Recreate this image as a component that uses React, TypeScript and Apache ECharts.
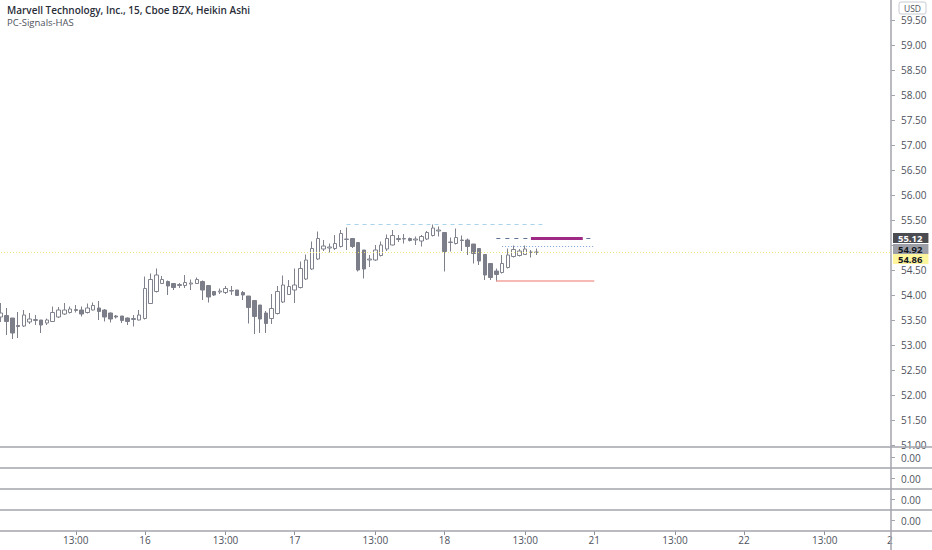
import React, { useEffect, useRef } from 'react';
import * as echarts from 'echarts';

// ---- categories (15-minute bars, regular session) ----
const DAYS = ['15', '16', '17', '18', '21', '22'];
const TIMES = [
  '09:30', '09:45', '10:00', '10:15', '10:30', '10:45', '11:00', '11:15', '11:30', '11:45',
  '12:00', '12:15', '12:30', '12:45', '13:00', '13:15', '13:30', '13:45', '14:00', '14:15',
  '14:30', '14:45', '15:00', '15:15', '15:30', '15:45',
];
const FIRST_SLOT = 1; // chart starts at 15th 09:45

// ---- Heikin Ashi candles ----
const opens = [
  53.56, 53.59, 53.54, 53.39, 53.38, 53.46, 53.49, 53.50, 53.44, 53.47,
  53.56, 53.62, 53.65, 53.69, 53.70, 53.65, 53.70, 53.74, 53.70, 53.64,
  53.58, 53.58, 53.54, 53.51, 53.50, 53.53, 53.83, 54.07, 54.23, 54.27,
  54.23, 54.19, 54.19, 54.22, 54.23, 54.27, 54.19, 54.07, 54.06, 54.05,
  54.08, 54.10, 54.05, 53.98, 53.89, 53.80, 53.64, 53.53, 53.63, 53.86,
  54.01, 54.10, 54.15, 54.32, 54.52, 54.72, 54.92, 54.94, 54.93, 54.97,
  55.11, 55.13, 55.05, 54.90, 54.70, 54.70, 54.79, 54.92, 55.00, 55.11,
  55.12, 55.13, 55.10, 55.08, 55.12, 55.19, 55.28, 55.25, 55.05, 55.03,
  55.10, 55.10, 55.02, 54.93, 54.81, 54.63, 54.48, 54.45, 54.55, 54.77,
  54.79, 54.81, 54.86, 54.85,
];
const closes = [
  53.64, 53.47, 53.24, 53.37, 53.60, 53.52, 53.51, 53.40, 53.50, 53.65,
  53.70, 53.70, 53.72, 53.71, 53.62, 53.74, 53.79, 53.67, 53.56, 53.52,
  53.56, 53.49, 53.47, 53.53, 53.60, 54.13, 54.31, 54.40, 54.31, 54.18,
  54.15, 54.21, 54.25, 54.24, 54.31, 54.10, 53.96, 54.00, 54.08, 54.13,
  54.09, 53.99, 54.00, 53.75, 53.57, 53.52, 53.43, 53.73, 54.07, 54.20,
  54.17, 54.20, 54.53, 54.70, 54.93, 55.13, 54.98, 54.96, 55.03, 55.23,
  55.12, 54.97, 54.50, 54.52, 54.72, 54.90, 55.00, 55.13, 55.19, 55.13,
  55.13, 55.09, 55.12, 55.17, 55.25, 55.34, 55.30, 54.87, 55.06, 55.15,
  55.09, 54.97, 54.83, 54.68, 54.40, 54.35, 54.41, 54.63, 54.80, 54.91,
  54.88, 54.92, 54.85, 54.86,
];
const lows = [
  53.46, 53.20, 53.12, 53.14, 53.36, 53.42, 53.40, 53.24, 53.40, 53.46,
  53.54, 53.60, 53.63, 53.65, 53.57, 53.63, 53.69, 53.50, 53.47, 53.45,
  53.53, 53.44, 53.40, 53.37, 53.49, 53.51, 53.82, 54.05, 54.22, 54.00,
  54.10, 54.14, 54.14, 54.10, 54.22, 53.90, 53.85, 53.98, 54.02, 54.02,
  54.00, 53.98, 53.90, 53.43, 53.22, 53.24, 53.24, 53.42, 53.61, 53.84,
  54.00, 53.84, 54.13, 54.30, 54.50, 54.70, 54.88, 54.85, 54.90, 54.95,
  54.90, 54.94, 54.47, 54.33, 54.56, 54.68, 54.77, 54.88, 54.99, 55.06,
  55.03, 55.07, 55.00, 54.97, 55.10, 55.17, 55.17, 54.47, 54.87, 55.01,
  54.88, 54.80, 54.63, 54.60, 54.30, 54.30, 54.27, 54.43, 54.53, 54.75,
  54.77, 54.80, 54.75, 54.80,
];
const highs = [
  53.84, 53.74, 53.54, 53.66, 53.70, 53.64, 53.60, 53.50, 53.53, 53.77,
  53.76, 53.84, 53.77, 53.80, 53.77, 53.83, 53.85, 53.88, 53.72, 53.65,
  53.60, 53.58, 53.55, 53.60, 53.70, 54.37, 54.43, 54.53, 54.38, 54.29,
  54.24, 54.24, 54.40, 54.31, 54.35, 54.29, 54.19, 54.07, 54.13, 54.18,
  54.18, 54.10, 54.08, 53.98, 53.90, 53.80, 53.68, 54.02, 54.18, 54.39,
  54.30, 54.53, 54.67, 54.81, 55.07, 55.27, 55.10, 55.03, 55.20, 55.30,
  55.35, 55.13, 55.05, 54.90, 54.80, 55.00, 55.07, 55.21, 55.30, 55.20,
  55.22, 55.15, 55.17, 55.20, 55.28, 55.41, 55.37, 55.25, 55.15, 55.33,
  55.19, 55.13, 55.02, 54.93, 54.81, 54.63, 54.53, 54.80, 54.93, 54.99,
  54.92, 54.99, 54.90, 54.93,
];

// ---- indicator levels: [value, fromBar, toBar] ----
const resistanceLevel = [55.42, 60, 94];
const upperLevel = [55.14, 86, 103];
const signalLevel = [55.14, 92, 101];
const middleLevel = [54.98, 87, 103];
const supportLevel = [54.29, 86, 103];
const lastPrice = 54.86;
const priceTags = [55.12, 54.92];

const PRICE_MIN = 51;
const PRICE_MAX = 59.9;
const PRICE_STEP = 0.5;

const FONT = '"Open Sans", "DejaVu Sans", sans-serif';
const AXIS_GRAY = '#a3a5ad';
const LABEL_COLOR = '#4e525c';
const CANDLE_GRAY = '#7c7f89';

export default function App() {
  const ref = useRef<HTMLDivElement>(null);

  useEffect(() => {
    if (!ref.current) return;
    const chart = echarts.init(ref.current, undefined, { renderer: 'svg' });

    const categories: string[] = [];
    DAYS.forEach((d, di) => {
      TIMES.forEach((t, ti) => {
        if (di === 0 && ti < FIRST_SLOT) return;
        categories.push(`${d} ${t}`);
      });
    });

    const candles = opens.map((o, i) => [o, closes[i], lows[i], highs[i]]);

    const isLabelSlot = (_i: number, v: string) => v.endsWith('09:30') || v.endsWith('13:00');

    // price-scale labels hidden behind the price tags
    const tagValues = [...priceTags, lastPrice];
    const hiddenByTag = (v: number) => tagValues.some((t) => Math.abs(t - v) < 0.15);

    const gridBase = { left: -2, right: 41, outerBoundsMode: 'none', containLabel: false };
    const grids = [
      { ...gridBase, top: 0, height: 445 },
      { ...gridBase, top: 447, height: 21 },
      { ...gridBase, top: 468, height: 21 },
      { ...gridBase, top: 489, height: 21 },
      { ...gridBase, top: 510, height: 21 },
    ];

    const xAxes = grids.map((_, gi) => ({
      type: 'category',
      gridIndex: gi,
      position: 'bottom',
      data: categories,
      boundaryGap: true,
      axisLine: { show: false, onZero: false },
      splitLine: { show: false },
      axisTick: gi === 4
        ? { show: true, interval: isLabelSlot, alignWithLabel: true, length: 4, lineStyle: { color: '#8f929b', width: 1 } }
        : { show: false },
      axisLabel: gi === 4
        ? {
            show: true,
            interval: isLabelSlot,
            formatter: (v: string) => (v.endsWith('09:30') ? v.split(' ')[0] : '13:00'),
            fontSize: 10,
            color: LABEL_COLOR,
            margin: 4,
          }
        : { show: false },
    }));

    const yAxes: any[] = [
      {
        type: 'value',
        gridIndex: 0,
        position: 'right',
        min: PRICE_MIN,
        max: PRICE_MAX,
        interval: PRICE_STEP,
        axisLine: { show: false },
        axisTick: { show: true, length: 4, lineStyle: { color: AXIS_GRAY } },
        splitLine: { show: false },
        axisLabel: {
          formatter: (v: number) => (hiddenByTag(v) ? '' : v.toFixed(2)),
          fontSize: 10,
          color: LABEL_COLOR,
          margin: 10,
          showMaxLabel: false,
        },
      },
    ];
    for (let k = 1; k <= 4; k++) {
      yAxes.push({
        type: 'value',
        gridIndex: k,
        position: 'right',
        min: -1,
        max: 1,
        interval: 1,
        axisLine: { show: false },
        axisTick: { show: true, length: 4, lineStyle: { color: AXIS_GRAY } },
        splitLine: { show: false },
        axisLabel: {
          formatter: (v: number) => (v === 0 ? '0.00' : ''),
          fontSize: 10,
          color: LABEL_COLOR,
          margin: 10,
          showMinLabel: false,
          showMaxLabel: false,
        },
      });
    }

    const seg = (lvl: number[], lineStyle: any) => [
      { coord: [lvl[1], lvl[0]], lineStyle },
      { coord: [lvl[2], lvl[0]] },
    ];
    const tagLabel = (bg: string, fg: string, offsetY = 0) => ({
      show: true,
      position: 'end',
      distance: 2,
      formatter: (p: any) => Number(p.value).toFixed(2),
      backgroundColor: bg,
      color: fg,
      fontSize: 9.5,
      fontWeight: 'bold',
      padding: [0, 6, 0, 5],
      lineHeight: 10,
      offset: [0, offsetY],
    });
    const invisible = { color: 'rgba(255,255,255,0)', width: 0 };

    const option: any = {
      animation: false,
      backgroundColor: '#ffffff',
      textStyle: { fontFamily: FONT },
      grid: grids,
      xAxis: xAxes,
      yAxis: yAxes,
      series: [
        {
          type: 'candlestick',
          xAxisIndex: 0,
          yAxisIndex: 0,
          data: candles,
          barWidth: 4,
          itemStyle: {
            color: '#ffffff',
            color0: CANDLE_GRAY,
            borderColor: '#80838d',
            borderColor0: CANDLE_GRAY,
            borderWidth: 1,
          },
          markLine: {
            silent: true,
            symbol: ['none', 'none'],
            label: { show: false },
            emphasis: { disabled: true },
            data: [
              seg(resistanceLevel, { color: '#a9d3ec', type: [4, 4], width: 1 }),
              seg(upperLevel, { color: '#5d7290', type: [4, 5], width: 1 }),
              seg(signalLevel, { color: '#9e2a85', type: 'solid', width: 3 }),
              seg(middleLevel, { color: '#7aa3d8', type: [1, 2], width: 1 }),
              seg(supportLevel, { color: '#f3a29b', type: 'solid', width: 1.5 }),
              {
                yAxis: lastPrice,
                lineStyle: { color: '#f1e27a', type: [1, 2], width: 1 },
                label: tagLabel('#fff59d', '#131722', 7),
              },
              {
                yAxis: priceTags[0],
                lineStyle: invisible,
                label: tagLabel('#4b4c52', '#ffffff', -1),
              },
              {
                yAxis: priceTags[1],
                lineStyle: invisible,
                label: tagLabel('#9c9fa7', '#131722', 0),
              },
            ],
          },
        },
      ],
      graphic: [
        ...[447, 468, 489, 510, 531].map((y) => ({
          type: 'line',
          z: 4,
          silent: true,
          shape: { x1: 0, y1: y, x2: 932, y2: y },
          style: { stroke: AXIS_GRAY, lineWidth: 1.5 },
        })),
        {
          type: 'line',
          z: 4,
          silent: true,
          shape: { x1: 891, y1: 0, x2: 891, y2: 550 },
          style: { stroke: AXIS_GRAY, lineWidth: 1.5 },
        },
        {
          type: 'text',
          z: 5,
          left: 7,
          top: 5,
          style: {
            text: 'Marvell Technology, Inc., 15, Cboe BZX, Heikin Ashi',
            fill: '#2a2e39',
            font: `600 10px ${FONT}`,
          },
        },
        {
          type: 'text',
          z: 5,
          left: 7,
          top: 17,
          style: { text: 'PC-Signals-HAS', fill: '#4e525c', font: `9.5px ${FONT}` },
        },
        {
          type: 'rect',
          z: 5,
          shape: { x: 899, y: 2, width: 27, height: 12, r: 2 },
          style: { fill: '#ffffff', stroke: '#c9cbd1', lineWidth: 1 },
        },
        {
          type: 'text',
          z: 6,
          x: 912.5,
          y: 8,
          style: { text: 'USD', fill: '#4e525c', font: `8.5px ${FONT}`, textAlign: 'center', textVerticalAlign: 'middle' },
        },
        {
          type: 'text',
          z: 3,
          x: 887,
          y: 540,
          style: { text: '2', fill: LABEL_COLOR, font: `10px ${FONT}`, textAlign: 'left', textVerticalAlign: 'middle' },
        },
      ],
    };

    chart.setOption(option);
    return () => chart.dispose();
  }, []);

  return (
    <div
      ref={ref}
      style={{ position: 'fixed', left: 0, top: 0, width: 932, height: 550, background: '#fff' }}
    />
  );
}
